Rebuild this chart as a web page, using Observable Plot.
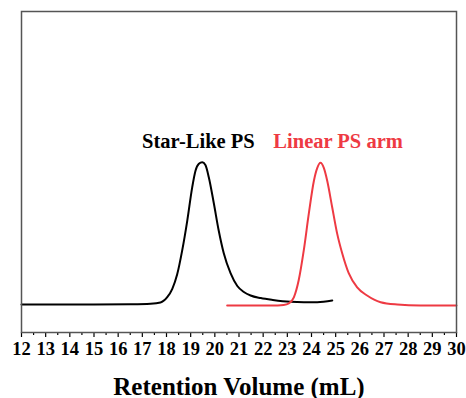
<!DOCTYPE html>
<html>
<head>
<meta charset="utf-8">
<script src="https://cdn.jsdelivr.net/npm/d3@7"></script>
<script src="https://cdn.jsdelivr.net/npm/@observablehq/plot@0.6"></script>
<style>
  body { margin: 0; background: #fff; }
</style>
</head>
<body>
<div id="chart"></div>
<script>
// Retention volume (mL) and normalized RI intensity
const starVolume = [12.0, 15.0, 16.5, 17.34, 17.75, 18.03, 18.24, 18.44, 18.65, 18.86, 19.06, 19.20, 19.34, 19.48, 19.61, 19.75, 19.96, 20.16, 20.37, 20.65, 20.93, 21.20, 21.48, 21.9, 22.4, 23.13, 24.24, 24.86];
const starSignal = [0, 0, 0.002, 0.006, 0.014, 0.051, 0.11, 0.21, 0.38, 0.59, 0.82, 0.94, 0.989, 1.0, 0.98, 0.895, 0.71, 0.52, 0.36, 0.22, 0.13, 0.088, 0.063, 0.045, 0.032, 0.02, 0.016, 0.028];

const armVolume = [20.51, 22.6, 22.85, 23.06, 23.27, 23.47, 23.68, 23.89, 24.10, 24.24, 24.37, 24.51, 24.65, 24.86, 25.06, 25.27, 25.54, 25.89, 26.30, 26.86, 27.55, 28.5, 30.0];
const armSignal = [-0.007, -0.007, -0.004, 0.007, 0.05, 0.17, 0.38, 0.64, 0.87, 0.96, 0.996, 0.96, 0.87, 0.68, 0.50, 0.36, 0.22, 0.12, 0.063, 0.016, 0.0, -0.007, -0.007];

const majorTicks = d3.range(12, 31);
const minorTicks = d3.range(12.5, 30, 1);

const seriesNames = ["Star-Like PS", "Linear PS arm"];
const seriesColors = ["#000000", "#ee3a43"];
const labelPos = [{x: 19.32, y: 1.1}, {x: 25.1, y: 1.1}];

const star = starVolume.map((v, i) => ({volume: v, signal: starSignal[i]}));
const arm = armVolume.map((v, i) => ({volume: v, signal: armSignal[i]}));
const labels = seriesNames.map((name, i) => ({name, color: seriesColors[i], ...labelPos[i]}));

const chart = Plot.plot({
  width: 466,
  height: 398,
  marginLeft: 21,
  marginRight: 10,
  marginTop: 11,
  marginBottom: 66,
  style: {fontFamily: "'Liberation Serif', 'Times New Roman', serif", fontWeight: "bold", color: "#000", background: "#fff"},
  x: {domain: [12, 30]},
  y: {domain: [-0.197, 2.06], axis: null},
  marks: [
    Plot.line(star, {x: "volume", y: "signal", stroke: seriesColors[0], strokeWidth: 2, curve: "monotone-x"}),
    Plot.line(arm, {x: "volume", y: "signal", stroke: seriesColors[1], strokeWidth: 2, curve: "monotone-x"}),
    Plot.text(labels, {x: "x", y: "y", text: "name", fill: "color", fontSize: 20.5, fontWeight: "bold", textAnchor: "middle", lineAnchor: "bottom"}),
    Plot.axisX(minorTicks, {tickSize: 3, text: null, stroke: "#000", strokeWidth: 1.2, label: null}),
    Plot.axisX(majorTicks, {tickSize: 5, tickPadding: 4, stroke: "#000", strokeWidth: 1.2, fontSize: 18.5, fontWeight: "bold", label: null}),
    Plot.frame({stroke: "#555", strokeWidth: 1.5}),
    Plot.text(["Retention Volume (mL)"], {frameAnchor: "bottom", dy: 62, fontSize: 25, fontWeight: "bold", lineAnchor: "bottom", fill: "#000"})
  ]
});
document.getElementById("chart").appendChild(chart);
</script>
</body>
</html>
